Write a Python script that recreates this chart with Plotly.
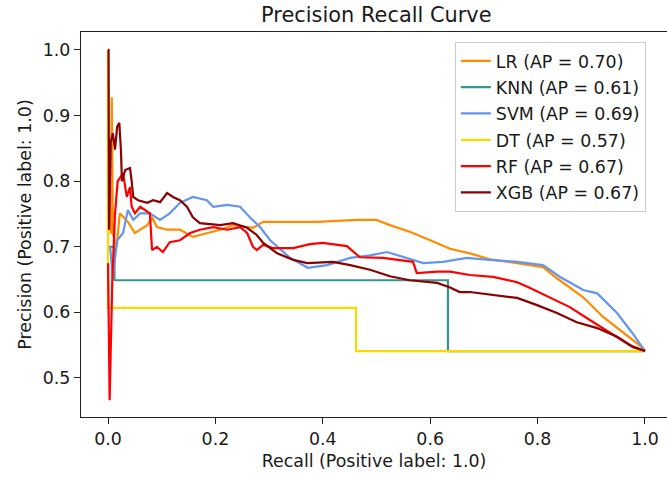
import plotly.graph_objects as go

# ---- data ----
lr_recall = [0.005, 0.007, 0.009, 0.016, 0.022, 0.037, 0.050, 0.073, 0.082, 0.091,
             0.110, 0.134, 0.158, 0.184, 0.209, 0.233, 0.259, 0.270, 0.289, 0.326,
             0.389, 0.464, 0.500, 0.525, 0.562, 0.600, 0.637, 0.674, 0.711, 0.762,
             0.810, 0.836, 0.885, 0.922, 0.959, 0.996, 1.0]
lr_precision = [0.720, 0.928, 0.720, 0.700, 0.751, 0.738, 0.721, 0.733, 0.745, 0.730,
                0.726, 0.726, 0.715, 0.721, 0.726, 0.733, 0.730, 0.729, 0.738, 0.738,
                0.738, 0.741, 0.741, 0.733, 0.723, 0.710, 0.697, 0.690, 0.681, 0.675,
                0.669, 0.652, 0.623, 0.593, 0.569, 0.546, 0.541]

knn_recall = [1.0, 0.633, 0.012, 0.0]
knn_precision = [0.541, 0.649, 0.700, 1.0]

svm_recall = [0.004, 0.009, 0.017, 0.028, 0.037, 0.047, 0.060, 0.078, 0.097,
              0.115, 0.134, 0.158, 0.184, 0.196, 0.222, 0.246, 0.264, 0.283, 0.302,
              0.339, 0.372, 0.408, 0.451, 0.488, 0.520, 0.544, 0.587, 0.624, 0.668,
              0.711, 0.762, 0.810, 0.842, 0.885, 0.911, 0.948, 0.976, 1.0]
svm_precision = [0.700, 0.652, 0.710, 0.721, 0.756, 0.741, 0.751, 0.751, 0.741,
                 0.751, 0.767, 0.776, 0.771, 0.761, 0.764, 0.761, 0.745, 0.730, 0.710,
                 0.683, 0.668, 0.672, 0.683, 0.687, 0.692, 0.686, 0.675, 0.677, 0.683,
                 0.680, 0.677, 0.672, 0.654, 0.634, 0.629, 0.599, 0.569, 0.541]

dt_recall = [1.0, 0.462, 0.0]
dt_precision = [0.541, 0.607, 1.0]

rf_recall = [0.0, 0.003, 0.008, 0.013, 0.018, 0.028, 0.035, 0.041, 0.044, 0.050,
             0.060, 0.069, 0.078, 0.082, 0.091, 0.102, 0.115, 0.134, 0.153, 0.171,
             0.196, 0.222, 0.246, 0.259, 0.270, 0.277, 0.289, 0.307, 0.345, 0.376,
             0.400, 0.445, 0.469, 0.512, 0.538, 0.568, 0.575, 0.613, 0.637, 0.674,
             0.717, 0.762, 0.786, 0.823, 0.860, 0.898, 0.935, 0.972, 1.0]
rf_precision = [0.675, 0.466, 0.650, 0.750, 0.800, 0.812, 0.776, 0.791, 0.761, 0.751,
                0.761, 0.756, 0.751, 0.695, 0.700, 0.692, 0.707, 0.710, 0.721, 0.726,
                0.730, 0.726, 0.730, 0.721, 0.700, 0.695, 0.703, 0.698, 0.698, 0.704,
                0.706, 0.701, 0.684, 0.683, 0.680, 0.677, 0.660, 0.662, 0.662, 0.657,
                0.654, 0.646, 0.637, 0.623, 0.608, 0.588, 0.569, 0.550, 0.541]

xgb_recall = [0.0, 0.001, 0.002, 0.005, 0.009, 0.013, 0.017, 0.021, 0.024, 0.026,
              0.032, 0.041, 0.044, 0.047, 0.056, 0.073, 0.084, 0.097, 0.110, 0.121,
              0.134, 0.147, 0.158, 0.171, 0.209, 0.233, 0.259, 0.277, 0.289, 0.315,
              0.345, 0.371, 0.419, 0.451, 0.488, 0.525, 0.562, 0.613, 0.637, 0.655,
              0.674, 0.717, 0.762, 0.799, 0.836, 0.873, 0.911, 0.948, 0.978, 1.0]
xgb_precision = [1.0, 1.0, 0.726, 0.860, 0.873, 0.848, 0.883, 0.889, 0.848, 0.800,
                 0.817, 0.820, 0.800, 0.776, 0.771, 0.767, 0.771, 0.768, 0.782, 0.776,
                 0.771, 0.761, 0.745, 0.736, 0.733, 0.736, 0.729, 0.718, 0.706, 0.690,
                 0.680, 0.675, 0.677, 0.672, 0.665, 0.655, 0.649, 0.645, 0.638, 0.631,
                 0.631, 0.627, 0.622, 0.611, 0.599, 0.585, 0.576, 0.563, 0.547, 0.541]

labels = ["LR (AP = 0.70)", "KNN (AP = 0.61)", "SVM (AP = 0.69)",
          "DT (AP = 0.57)", "RF (AP = 0.67)", "XGB (AP = 0.67)"]
x_ticks = [0.0, 0.2, 0.4, 0.6, 0.8, 1.0]
y_ticks = [0.5, 0.6, 0.7, 0.8, 0.9, 1.0]

series = [
    (lr_recall, lr_precision, "#FF8C00", "linear"),
    (knn_recall, knn_precision, "#35958F", "hv"),
    (svm_recall, svm_precision, "#6495ED", "linear"),
    (dt_recall, dt_precision, "#FFD700", "hv"),
    (rf_recall, rf_precision, "#FF0000", "linear"),
    (xgb_recall, xgb_precision, "#8B0000", "linear"),
]

FONT = "DejaVu Sans"
FS = 17.4
TXT = "#1a1a1a"
fig = go.Figure()
for i, ((rx, py, col, shape), name) in enumerate(zip(series, labels)):
    fig.add_trace(go.Scatter(x=rx, y=py, mode="lines", name=name,
                             legendgroup=f"g{i}",
                             line=dict(color=col, width=2.2, shape=shape)))

axis_common = dict(showgrid=False, zeroline=False, showline=True, linecolor="#222",
                   linewidth=1.3, ticks="outside", ticklen=6, tickwidth=1.3,
                   tickcolor="#222", automargin=False,
                   tickfont=dict(family=FONT, size=FS, color=TXT))

fig.update_layout(
    template="none",
    width=667, height=477, autosize=False,
    margin=dict(l=81, r=0, t=32, b=60, pad=0),
    paper_bgcolor="white", plot_bgcolor="white",
    title=dict(text="Precision Recall Curve", x=0.504, xref="paper",
               xanchor="center", y=1 - 15 / 477, yref="container", yanchor="middle",
               font=dict(family=FONT, size=20.9, color=TXT)),
    xaxis=dict(range=[-0.0503, 1.041], tickvals=x_ticks,
               ticktext=[f"{v:.1f}" for v in x_ticks], mirror=True,
               title=dict(text="Recall (Positive label: 1.0)", standoff=6,
                          font=dict(family=FONT, size=FS, color=TXT)),
               **axis_common),
    yaxis=dict(range=[0.4405, 1.0274], tickvals=y_ticks,
               ticktext=[f"{v:.1f}" for v in y_ticks], mirror=False,
               title=dict(text="Precision (Positive label: 1.0)", standoff=6,
                          font=dict(family=FONT, size=FS, color=TXT)),
               **axis_common),
    legend=dict(x=0.638, y=0.974, xanchor="left", yanchor="top",
                bgcolor="rgba(255,255,255,0.8)", bordercolor="#cccccc", borderwidth=1,
                font=dict(family=FONT, size=FS, color=TXT),
                tracegroupgap=0.7, traceorder="grouped"),
    showlegend=True,
)

fig.write_html("out.html")
